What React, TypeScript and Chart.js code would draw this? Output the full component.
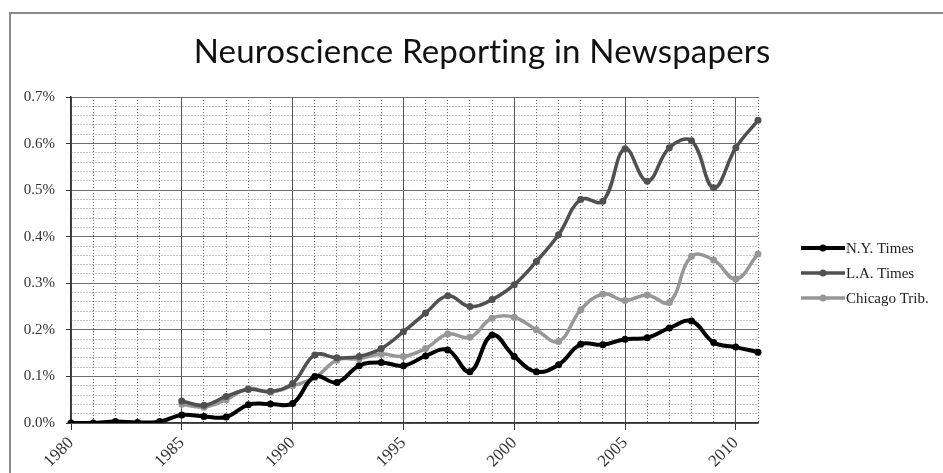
import React, { useEffect, useRef } from 'react';
import { Chart, registerables } from 'chart.js';

Chart.register(...registerables);

const chartTitle = 'Neuroscience Reporting in Newspapers';

const years = [
  '1980', '1981', '1982', '1983', '1984', '1985', '1986', '1987', '1988', '1989',
  '1990', '1991', '1992', '1993', '1994', '1995', '1996', '1997', '1998', '1999',
  '2000', '2001', '2002', '2003', '2004', '2005', '2006', '2007', '2008', '2009',
  '2010', '2011',
];

const seriesLabels = ['N.Y. Times', 'L.A. Times', 'Chicago Trib.'];

// values in percent
const nyTimes = [
  0.0, 0.0, 0.003, 0.001, 0.003, 0.017, 0.014, 0.013, 0.039, 0.041,
  0.042, 0.1, 0.087, 0.123, 0.13, 0.123, 0.144, 0.157, 0.11, 0.189,
  0.143, 0.11, 0.125, 0.169, 0.168, 0.18, 0.183, 0.204, 0.219, 0.173,
  0.163, 0.152,
];

const laTimes = [
  null, null, null, null, null, 0.047, 0.038, 0.057, 0.072, 0.068,
  0.085, 0.146, 0.14, 0.143, 0.16, 0.196, 0.236, 0.273, 0.25, 0.265,
  0.297, 0.347, 0.404, 0.48, 0.476, 0.589, 0.519, 0.591, 0.606, 0.505,
  0.591, 0.65,
];

const chicagoTrib = [
  null, null, null, null, null, 0.04, 0.034, 0.05, 0.074, 0.066,
  0.08, 0.097, 0.135, 0.138, 0.148, 0.143, 0.16, 0.191, 0.184, 0.225,
  0.227, 0.2, 0.175, 0.243, 0.277, 0.263, 0.275, 0.259, 0.358, 0.35,
  0.309, 0.363,
];

const seriesColors = ['#000000', '#505050', '#979797'];
const seriesWidths = [4, 3.5, 3.5];

const yTickValues = { min: 0, max: 0.7, minorStep: 0.02 };

const isMajorY = (v: number) => Math.abs(v * 10 - Math.round(v * 10)) < 1e-6;
const isMajorX = (i: number) => i >= 0 && i < years.length && Number(years[i]) % 5 === 0;

const decorPlugin = {
  id: 'decor',
  beforeDraw(chart: any) {
    const { ctx, width, height } = chart;
    ctx.save();
    ctx.fillStyle = '#ffffff';
    ctx.fillRect(0, 0, width, height);
    // outer frame (left and top edges visible)
    ctx.strokeStyle = '#8a8a8a';
    ctx.lineWidth = 2;
    ctx.beginPath();
    ctx.moveTo(10, height + 2);
    ctx.lineTo(10, 13);
    ctx.lineTo(width + 2, 13);
    ctx.stroke();
    ctx.restore();
  },
  afterDraw(chart: any) {
    const { ctx } = chart;
    ctx.save();
    // title
    ctx.fillStyle = '#111111';
    ctx.font = '33px Lato';
    try { (ctx as any).letterSpacing = '0.2px'; } catch (e) { /* ignore */ }
    ctx.textAlign = 'center';
    ctx.textBaseline = 'alphabetic';
    ctx.fillText(chartTitle, 482, 63);
    try { (ctx as any).letterSpacing = '0px'; } catch (e) { /* ignore */ }
    // legend
    chart.data.datasets.forEach((ds: any, i: number) => {
      const y = 248 + i * 25;
      ctx.strokeStyle = ds.borderColor;
      ctx.lineWidth = ds.borderWidth;
      ctx.beginPath();
      ctx.moveTo(801, y);
      ctx.lineTo(845, y);
      ctx.stroke();
      ctx.fillStyle = ds.borderColor;
      ctx.beginPath();
      ctx.arc(823, y, 3.5, 0, Math.PI * 2);
      ctx.fill();
      ctx.fillStyle = '#222222';
      ctx.font = '15px "Liberation Serif"';
      ctx.textAlign = 'left';
      ctx.textBaseline = 'middle';
      ctx.fillText(ds.label, 846, y + 1);
    });
    ctx.restore();
  },
};

export default function App() {
  const canvasRef = useRef<HTMLCanvasElement | null>(null);

  useEffect(() => {
    if (!canvasRef.current) return;
    const seriesData = [nyTimes, laTimes, chicagoTrib];
    const chart = new Chart(canvasRef.current, {
      type: 'line',
      data: {
        labels: years,
        datasets: seriesData.map((d, i) => ({
          label: seriesLabels[i],
          data: d,
          borderColor: seriesColors[i],
          backgroundColor: seriesColors[i],
          borderWidth: seriesWidths[i],
          pointRadius: 3.5,
          pointBorderWidth: 0,
          pointBackgroundColor: seriesColors[i],
          tension: 0.4,
          fill: false,
        })),
      },
      options: {
        animation: false,
        responsive: false,
        devicePixelRatio: 1,
        layout: { padding: { top: 97, right: 185, bottom: 0, left: 0 } },
        plugins: {
          legend: { display: false },
          title: { display: false },
          tooltip: { enabled: false },
        },
        scales: {
          x: {
            type: 'category',
            offset: false,
            afterFit: (scale: any) => { scale.height = 50; },
            grid: {
              color: (c: any) => (isMajorX(c.index) ? '#555555' : '#6a6a6a'),
              lineWidth: 1,
              tickLength: 7,
              tickColor: (c: any) => (isMajorX(c.index) ? '#333333' : 'rgba(0,0,0,0)'),
            },
            border: {
              display: true,
              color: '#333333',
              width: 1.5,
              dash: (c: any) => (c.tick && isMajorX(c.index) ? [] : [1, 2]),
            },
            ticks: {
              autoSkip: false,
              maxRotation: 45,
              minRotation: 45,
              padding: 3,
              color: '#333333',
              font: { family: '"Liberation Serif"', size: 17 },
              callback: (_v: any, i: number) => (isMajorX(i) ? years[i] : ''),
            },
          },
          y: {
            min: yTickValues.min,
            max: yTickValues.max,
            afterFit: (scale: any) => { scale.width = 71; },
            grid: {
              color: (c: any) => (c.tick && isMajorY(c.tick.value) ? '#6e6e6e' : '#8c8c8c'),
              lineWidth: 1,
              tickLength: 5,
              tickColor: (c: any) => (c.tick && isMajorY(c.tick.value) ? '#333333' : 'rgba(0,0,0,0)'),
            },
            border: {
              display: true,
              color: '#333333',
              width: 1.5,
              dash: (c: any) => (c.tick && isMajorY(c.tick.value) ? [] : [1, 2]),
            },
            ticks: {
              stepSize: yTickValues.minorStep,
              maxTicksLimit: 60,
              autoSkip: false,
              padding: 11,
              color: '#333333',
              font: { family: '"Liberation Serif"', size: 15 },
              callback: (v: any) => (isMajorY(Number(v)) ? Number(v).toFixed(1) + '%' : ''),
            },
          },
        },
      },
      plugins: [decorPlugin],
    } as any);
    return () => chart.destroy();
  }, []);

  return (
    <div style={{ position: 'fixed', left: 0, top: 0, width: 943, height: 473, background: '#fff' }}>
      <canvas ref={canvasRef} width={943} height={473} />
    </div>
  );
}
